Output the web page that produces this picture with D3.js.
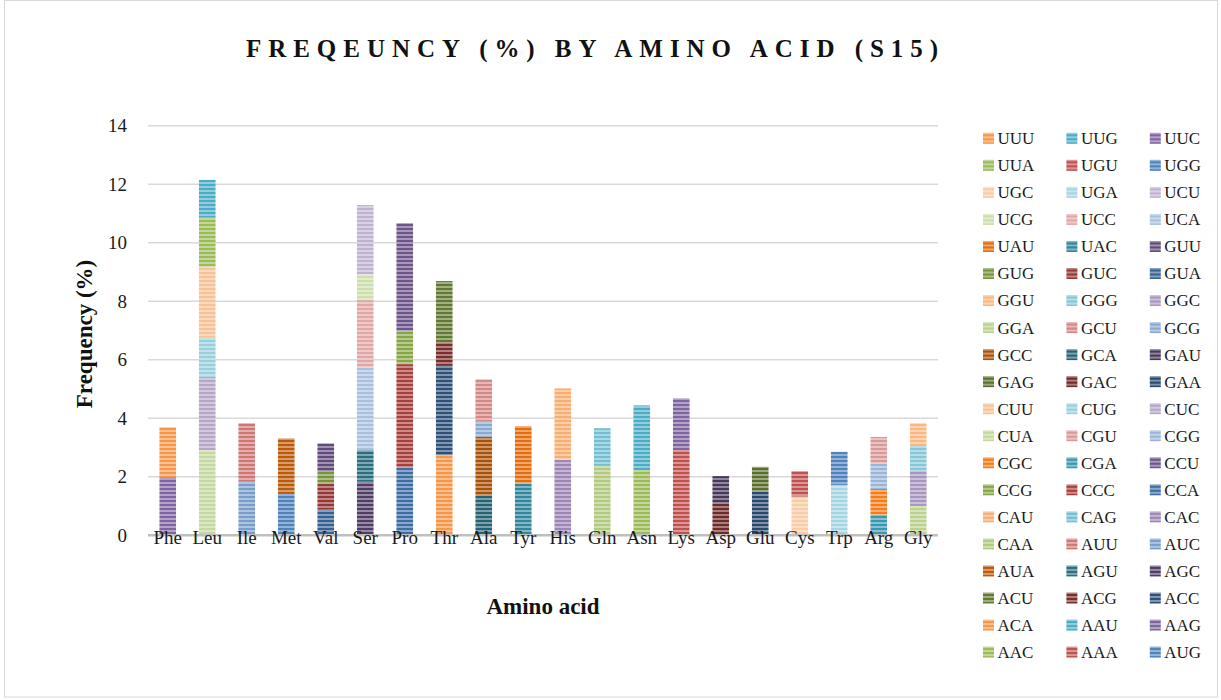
<!DOCTYPE html>
<html>
<head>
<meta charset="utf-8">
<script src="https://cdn.jsdelivr.net/npm/d3@7"></script>
<style>
  html, body { margin: 0; padding: 0; background: #fff; }
  svg { display: block; font-family: "Liberation Serif", "Times New Roman", serif; }
</style>
</head>
<body>
<svg id="chart" width="1221" height="700"></svg>
<script>
// Amino acids along the x axis
const aminoAcids = ["Phe","Leu","Ile","Met","Val","Ser","Pro","Thr","Ala","Tyr",
                    "His","Gln","Asn","Lys","Asp","Glu","Cys","Trp","Arg","Gly"];

// Codon series, in stacking order (first = bottom of each column)
const codons = ["AUG","AAA","AAC","AAG","AAU","ACA","ACC","ACG","ACU","AGC","AGU","AUA",
                "AUC","AUU","CAA","CAC","CAG","CAU","CCA","CCC","CCG","CCU","CGA","CGC",
                "CGG","CGU","CUA","CUC","CUG","CUU","GAA","GAC","GAG","GAU","GCA","GCC",
                "GCG","GCU","GGA","GGC","GGG","GGU","GUA","GUC","GUG","GUU","UAC","UAU",
                "UCA","UCC","UCG","UCU","UGA","UGC","UGG","UGU","UUA","UUC","UUG","UUU"];

// Amino acid encoded by each codon (same order as codons)
const codonAmino = ["Met","Lys","Asn","Lys","Asn","Thr","Thr","Thr","Thr","Ser","Ser","Met",
                    "Ile","Ile","Gln","His","Gln","His","Pro","Pro","Pro","Pro","Arg","Arg",
                    "Arg","Arg","Leu","Leu","Leu","Leu","Glu","Asp","Glu","Asp","Ala","Ala",
                    "Ala","Ala","Gly","Gly","Gly","Gly","Val","Val","Val","Val","Tyr","Tyr",
                    "Ser","Ser","Ser","Ser","Trp","Cys","Trp","Cys","Leu","Phe","Leu","Phe"];

// Frequency (%) of each codon (same order as codons)
const codonFreq = [1.41, 2.91, 2.23, 1.77, 2.21, 2.74, 3.05, 0.81, 2.09, 1.83, 1.08, 1.90,
                   1.83, 2.00, 2.37, 2.58, 1.29, 2.44, 2.31, 3.54, 1.14, 3.68, 0.70, 0.88,
                   0.88, 0.90, 2.91, 2.51, 1.33, 2.43, 1.48, 1.07, 0.86, 0.95, 1.37, 2.00,
                   0.51, 1.45, 1.00, 1.20, 0.85, 0.78, 0.88, 0.87, 0.42, 0.97, 1.77, 1.96,
                   2.82, 2.31, 0.88, 2.37, 1.72, 1.32, 1.13, 0.87, 1.68, 1.98, 1.29, 1.71];

const yTicks = [0, 2, 4, 6, 8, 10, 12, 14];

// Theme accent colours and the light/dark variant used for each group of six series
const accents = ["#4F81BD", "#C0504D", "#9BBB59", "#8064A2", "#4BACC6", "#F79646"];
const variants = [
  {type: "base"}, {type: "dark", k: 0.62}, {type: "light", k: 0.22}, {type: "dark", k: 0.85},
  {type: "light", k: 0.42}, {type: "dark", k: 0.56}, {type: "light", k: 0.32}, {type: "dark", k: 0.75},
  {type: "light", k: 0.5}, {type: "base"}
];

function seriesColor(i) {
  const base = d3.hsl(accents[i % 6]);
  const v = variants[Math.floor(i / 6)];
  if (v.type === "dark") base.l = base.l * v.k;
  else if (v.type === "light") base.l = base.l + (1 - base.l) * v.k;
  return base.formatHex();
}

const svg = d3.select("#chart");
const W = 1221, H = 700;

// Chart frame
svg.append("rect")
  .attr("x", 4.5).attr("y", 0.5).attr("width", W - 8).attr("height", H - 3.5)
  .attr("fill", "#fff").attr("stroke", "#d9d9d9").attr("stroke-width", 1);

// Striped fills for every series
const defs = svg.append("defs");
codons.forEach((c, i) => {
  const col = seriesColor(i);
  const light = d3.interpolateRgb(col, "#ffffff")(0.4);
  const p = defs.append("pattern")
    .attr("id", "pat-" + c)
    .attr("patternUnits", "userSpaceOnUse")
    .attr("width", 8).attr("height", 4);
  p.append("rect").attr("width", 8).attr("height", 4).attr("fill", light);
  p.append("rect").attr("width", 8).attr("height", 2).attr("fill", col);
});

// Scales
const x = d3.scaleBand().domain(aminoAcids).range([148, 938])
  .paddingInner(0.58).paddingOuter(0.29);
const y = d3.scaleLinear().domain([0, 14]).range([535.2, 125.8]);

// Gridlines
svg.append("g").selectAll("line").data(yTicks.filter(t => t > 0)).join("line")
  .attr("x1", 148).attr("x2", 938)
  .attr("y1", d => y(d)).attr("y2", d => y(d))
  .attr("stroke", "#d9d9d9").attr("stroke-width", 1.5);

// Stacked data
const table = aminoAcids.map(a => {
  const row = {amino: a};
  codons.forEach((c, i) => { row[c] = codonAmino[i] === a ? codonFreq[i] : 0; });
  return row;
});
const stacked = d3.stack().keys(codons)(table);

const bars = svg.append("g");
stacked.forEach(layer => {
  bars.append("g").attr("fill", "url(#pat-" + layer.key + ")")
    .selectAll("rect").data(layer.filter(d => d[1] - d[0] > 0)).join("rect")
    .attr("x", d => x(d.data.amino))
    .attr("width", x.bandwidth())
    .attr("y", d => y(d[1]))
    .attr("height", d => y(d[0]) - y(d[1]));
});

// Baseline
svg.append("line")
  .attr("x1", 148).attr("x2", 938).attr("y1", y(0)).attr("y2", y(0))
  .attr("stroke", "#bfbfbf").attr("stroke-width", 2.5);

// Y axis labels
const yAxis = d3.axisLeft(y).tickValues(yTicks).tickSize(0).tickPadding(0);
const gy = svg.append("g").attr("transform", "translate(127,0)").call(yAxis);
gy.select(".domain").remove();
gy.selectAll("text").attr("font-size", 19).attr("fill", "#1a1a1a")
  .attr("font-family", "Liberation Serif, serif");

// X axis labels
const xAxis = d3.axisBottom(x).tickSize(0).tickPadding(0);
const gx = svg.append("g").attr("transform", "translate(0,530)").call(xAxis);
gx.select(".domain").remove();
gx.selectAll("text").attr("font-size", 19).attr("fill", "#1a1a1a")
  .attr("dy", "0.71em").attr("y", 0)
  .attr("font-family", "Liberation Serif, serif");

// Axis titles
svg.append("text")
  .attr("transform", "translate(92,334) rotate(-90)")
  .attr("text-anchor", "middle").attr("font-size", 23).attr("font-weight", "bold")
  .attr("fill", "#111").text("Frequency (%)");
svg.append("text")
  .attr("x", 543).attr("y", 614)
  .attr("text-anchor", "middle").attr("font-size", 23).attr("font-weight", "bold")
  .attr("fill", "#111").text("Amino acid");

// Title
svg.append("text")
  .attr("x", 246).attr("y", 57)
  .attr("textLength", 692).attr("lengthAdjust", "spacing")
  .attr("font-size", 25).attr("font-weight", "bold")
  .attr("fill", "#111").text("FREQEUNCY (%) BY AMINO ACID (S15)");

// Legend: three columns, series listed from last to first
const legendItems = codons.map((c, i) => ({codon: c, i})).reverse();
const legend = svg.append("g");
const item = legend.selectAll("g").data(legendItems).join("g")
  .attr("transform", (d, k) => `translate(${983 + (k % 3) * 83.4},${138.3 + Math.floor(k / 3) * 27.04})`);
item.append("rect")
  .attr("x", 0).attr("y", -5.5).attr("width", 11).attr("height", 11)
  .attr("fill", d => "url(#pat-" + d.codon + ")");
item.append("text")
  .attr("x", 14.5).attr("y", 0).attr("dy", "0.35em")
  .attr("font-size", 17).attr("fill", "#1a1a1a").text(d => d.codon);
</script>
</body>
</html>
